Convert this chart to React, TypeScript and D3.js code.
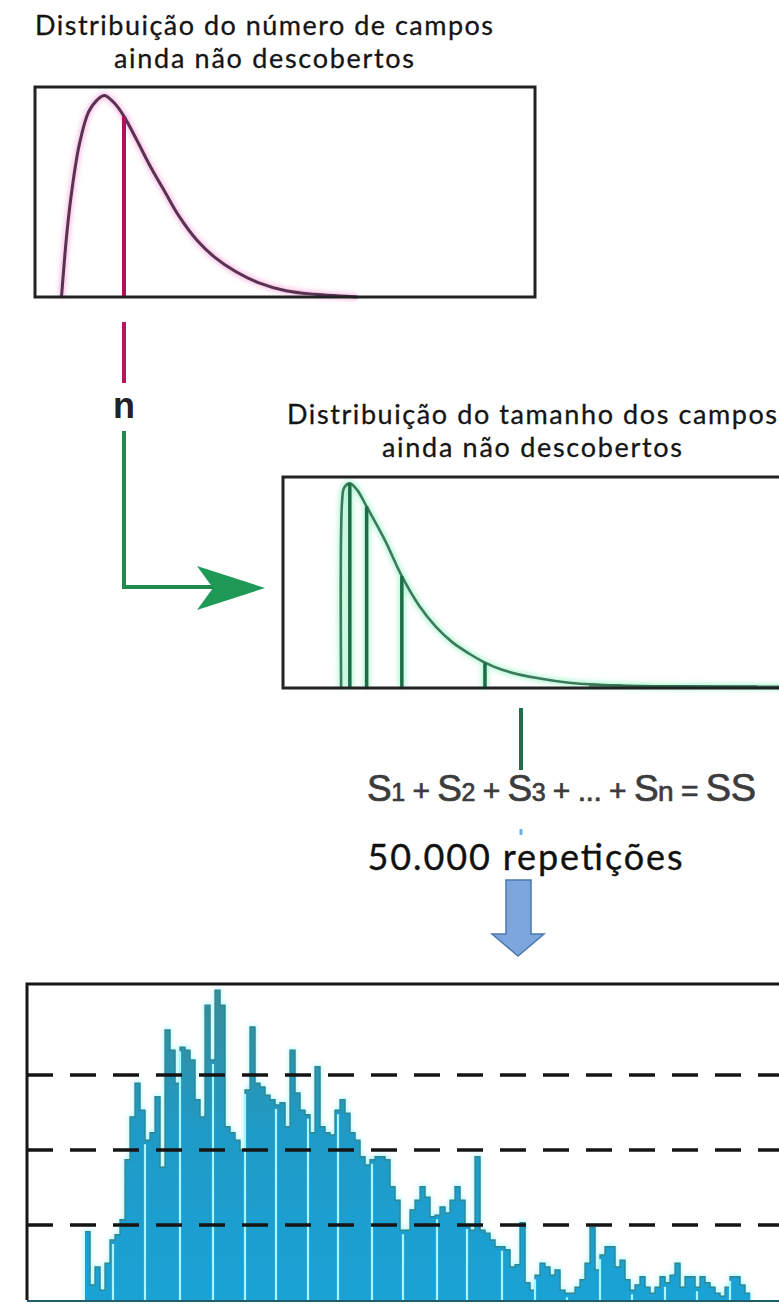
import * as d3 from "d3";
import { useEffect, useRef } from "react";

const W = 779;
const H = 1304;

// Top panel: distribution of the number of undiscovered fields
const countX = [5.3, 6.4, 7.5, 8.9, 10.7, 12.5, 13.9, 16.0, 17.8, 20.3, 23.1, 26.0, 28.8, 32.4, 35.9, 40.2, 44.5, 50.2, 55.9, 60.9, 64.4];
const countDensity = [0, 0.31, 0.53, 0.73, 0.88, 0.94, 0.96, 0.92, 0.86, 0.75, 0.62, 0.5, 0.385, 0.27, 0.19, 0.12, 0.07, 0.03, 0.013, 0.005, 0];
const countSampleX = 17.8;
const countSampleDensity = 0.86;

// Middle panel: distribution of the size of undiscovered fields
const sizeX = [11.4, 11.6, 12.0, 13.1, 14.5, 16.4, 20.0, 23.3, 26.7, 30.0, 33.3, 36.7, 39.6, 43.1, 49.8, 56.5, 66.5, 81.8, 99.4];
const sizeDensity = [0, 0.89, 0.95, 0.97, 0.94, 0.86, 0.7, 0.53, 0.39, 0.29, 0.215, 0.16, 0.12, 0.085, 0.047, 0.024, 0.012, 0.007, 0.005];
const sizeSamplesX = [13.1, 16.4, 23.3, 39.6];
const sizeSamplesDensity = [0.97, 0.86, 0.53, 0.12];

// Bottom panel: histogram of SS after 50.000 repetitions
const ssCounts = [
  910, 200, 440, 130, 490, 800, 870, 1070, 1870, 2440, 2890, 2530, 2130, 2230, 2710, 1770,
  3600, 3330, 2890, 3370, 3330, 3200, 2670, 2440, 3930, 3200, 4130, 3930, 2310, 2230, 2130, 2000,
  2800, 3640, 2890, 2840, 2730, 2670, 2600, 2630, 2310, 3330, 2760, 2530, 2470, 2230, 3110, 2310,
  2230, 2200, 2530, 2670, 2490, 2230, 2130, 1910, 1800, 1870, 1910, 1910, 1870, 1510, 1330, 930,
  930, 1200, 1330, 1510, 1370, 1110, 1130, 1240, 1160, 1330, 1510, 1330, 1000, 930, 1910, 930,
  890, 800, 710, 710, 670, 440, 470, 1030, 230, 130, 330, 490, 440, 330, 400, 130,
  90, 90, 170, 270, 490, 970, 400, 600, 710, 710, 440, 530, 270, 130, 200, 310,
  170, 90, 170, 310, 230, 330, 490, 170, 310, 310, 170, 310, 230, 170, 90, 50,
  170, 310, 310, 200, 90,
];
const ssGridlines = [1000, 2000, 3000];
const ssGapBins = [5.6, 12, 19, 25.6, 32, 38.2, 44.6, 50.6, 57.4, 63.6, 70.4, 76.4, 83.4, 90, 96.4, 103, 109.4, 116, 122.4, 129];

const topTitle = ["Distribuição do número de campos", "ainda não descobertos"];
const midTitle = ["Distribuição do tamanho dos campos", "ainda não descobertos"];
const repsLabel = "50.000 repetições";

export default function App() {
  const svgRef = useRef<SVGSVGElement>(null);

  useEffect(() => {
    if (!svgRef.current) return;
    const svg = d3.select(svgRef.current);
    svg.selectAll("*").remove();

    const defs = svg.append("defs");
    const blur = (id: string, sd: number) =>
      defs.append("filter").attr("id", id).attr("x", "-20%").attr("y", "-20%").attr("width", "140%").attr("height", "140%")
        .append("feGaussianBlur").attr("stdDeviation", sd);
    blur("glow", 2.5);
    blur("soft", 0.6);

    const grad = defs.append("linearGradient").attr("id", "barFill")
      .attr("gradientUnits", "userSpaceOnUse").attr("x1", 0).attr("x2", 0).attr("y1", 985).attr("y2", 1300);
    grad.append("stop").attr("offset", "0%").attr("stop-color", "#3a8c96");
    grad.append("stop").attr("offset", "45%").attr("stop-color", "#1f9ac6");
    grad.append("stop").attr("offset", "100%").attr("stop-color", "#1aa2d6");

    const titleFont = "Lato, 'Open Sans', sans-serif";

    const drawTitle = (lines: string[], cx: number, y0: number, widths: number[]) => {
      lines.forEach((t, i) => {
        svg.append("text")
          .attr("x", cx)
          .attr("y", y0 + i * 33)
          .attr("text-anchor", "middle")
          .attr("font-family", titleFont)
          .attr("font-size", 27)
          .attr("fill", "#151515")
          .attr("stroke", "#151515")
          .attr("stroke-width", 0.3)
          .attr("textLength", widths[i])
          .attr("lengthAdjust", "spacing")
          .text(t);
      });
    };

    // ---------- top panel ----------
    const xTop = d3.scaleLinear().domain([0, 100]).range([35, 535]);
    const yTop = d3.scaleLinear().domain([0, 1]).range([297, 87]);
    drawTitle(topTitle, 264, 35, [458, 300]);

    const topLine = d3.line<number>()
      .x((_, i) => xTop(countX[i]))
      .y((d) => yTop(d))
      .curve(d3.curveCatmullRom);

    svg.append("path").attr("d", topLine(countDensity)!).attr("fill", "none")
      .attr("stroke", "#f07ac4").attr("stroke-width", 6).attr("opacity", 0.5).attr("filter", "url(#glow)");
    svg.append("path").attr("d", topLine(countDensity)!).attr("fill", "none")
      .attr("stroke", "#5a3052").attr("stroke-width", 3).attr("filter", "url(#soft)");
    svg.append("line")
      .attr("x1", xTop(countSampleX)).attr("x2", xTop(countSampleX))
      .attr("y1", yTop(0)).attr("y2", yTop(countSampleDensity))
      .attr("stroke", "#b0105c").attr("stroke-width", 4);
    svg.append("rect").attr("x", 35).attr("y", 87).attr("width", 500).attr("height", 210)
      .attr("fill", "none").attr("stroke", "#222").attr("stroke-width", 3);

    // connector: n -> size distribution
    const nx = xTop(countSampleX);
    svg.append("line").attr("x1", nx).attr("x2", nx).attr("y1", 322).attr("y2", 383)
      .attr("stroke", "#b3175f").attr("stroke-width", 4);
    svg.append("text").attr("x", nx).attr("y", 418).attr("text-anchor", "middle")
      .attr("font-family", "'Liberation Sans', Arial, sans-serif").attr("font-weight", "bold")
      .attr("font-size", 36).attr("fill", "#222").text("n");
    svg.append("path")
      .attr("d", `M${nx},431 V587 H214`)
      .attr("fill", "none").attr("stroke", "#1f8a4c").attr("stroke-width", 4);
    svg.append("path")
      .attr("d", "M265,588 L197,566 L213,588 L197,610 Z")
      .attr("fill", "#1f9a56");

    // ---------- middle panel ----------
    const xMid = d3.scaleLinear().domain([0, 100]).range([283, 793]);
    const yMid = d3.scaleLinear().domain([0, 1]).range([688, 477]);
    drawTitle(midTitle, 532, 424, [490, 300]);

    const midLine = d3.line<number>()
      .x((_, i) => xMid(sizeX[i]))
      .y((d) => yMid(d))
      .curve(d3.curveCatmullRom);

    const glowG = svg.append("g").attr("filter", "url(#glow)").attr("opacity", 0.6);
    glowG.append("path").attr("d", midLine(sizeDensity)!).attr("fill", "none")
      .attr("stroke", "#7ff0b8").attr("stroke-width", 6);
    sizeSamplesX.forEach((sx, i) => {
      glowG.append("line").attr("x1", xMid(sx)).attr("x2", xMid(sx))
        .attr("y1", yMid(0)).attr("y2", yMid(sizeSamplesDensity[i]))
        .attr("stroke", "#7ff0b8").attr("stroke-width", 7);
    });
    svg.append("path").attr("d", midLine(sizeDensity)!).attr("fill", "none")
      .attr("stroke", "#3d7a5c").attr("stroke-width", 2.6).attr("filter", "url(#soft)");
    sizeSamplesX.forEach((sx, i) => {
      svg.append("line").attr("x1", xMid(sx)).attr("x2", xMid(sx))
        .attr("y1", yMid(0)).attr("y2", yMid(sizeSamplesDensity[i]))
        .attr("stroke", "#1e6b48").attr("stroke-width", 3.5);
    });
    svg.append("line").attr("x1", xMid(60)).attr("x2", xMid(93)).attr("y1", 686).attr("y2", 686)
      .attr("stroke", "#1e6b48").attr("stroke-width", 2).attr("opacity", 0.6);
    svg.append("rect").attr("x", 283).attr("y", 477).attr("width", 510).attr("height", 211)
      .attr("fill", "none").attr("stroke", "#222").attr("stroke-width", 3);

    // sum + repetitions
    svg.append("line").attr("x1", 521).attr("x2", 521).attr("y1", 708).attr("y2", 770)
      .attr("stroke", "#1f6e4a").attr("stroke-width", 4);

    const f = svg.append("text").attr("x", 367).attr("y", 801)
      .attr("font-family", "'Liberation Sans', Arial, sans-serif").attr("fill", "#3c3c3c")
      .attr("stroke", "#3c3c3c").attr("stroke-width", 0.7)
      .attr("textLength", 389).attr("lengthAdjust", "spacing");
    const parts: [string, number][] = [
      ["S", 37], ["1", 25], [" + ", 30], ["S", 37], ["2", 25], [" + ", 30], ["S", 37], ["3", 25],
      [" + ... + ", 30], ["S", 37], ["n", 28], [" = ", 30], ["SS", 38],
    ];
    parts.forEach(([t, s]) => f.append("tspan").attr("font-size", s).text(t));

    svg.append("line").attr("x1", 521).attr("x2", 521).attr("y1", 829).attr("y2", 835)
      .attr("stroke", "#6fb0d8").attr("stroke-width", 3);

    svg.append("text").attr("x", 525).attr("y", 870).attr("text-anchor", "middle")
      .attr("font-family", titleFont).attr("font-size", 36).attr("fill", "#111")
      .attr("stroke", "#111").attr("stroke-width", 0.35)
      .attr("textLength", 315).attr("lengthAdjust", "spacing").text(repsLabel);

    svg.append("path")
      .attr("d", "M506,880 H531 V934 H544 L518,956 L492,934 H506 Z")
      .attr("fill", "#7ca6dc").attr("stroke", "#4a78b0").attr("stroke-width", 1.5);

    // ---------- histogram ----------
    const xHist = d3.scaleLinear().domain([0, ssCounts.length]).range([85, 750]);
    const yHist = d3.scaleLinear().domain([0, 4200]).range([1300, 985]);

    const barsGlow = svg.append("g").attr("filter", "url(#glow)").attr("opacity", 0.7);
    barsGlow.selectAll("rect").data(ssCounts).enter().append("rect")
      .attr("x", (_, i) => xHist(i) - 1)
      .attr("y", (d) => yHist(d) - 2)
      .attr("width", xHist(1) - xHist(0) + 2)
      .attr("height", (d) => yHist(0) - yHist(d) + 2)
      .attr("fill", "#8cf2ff");

    svg.append("g").selectAll("rect").data(ssCounts).enter().append("rect")
      .attr("x", (_, i) => xHist(i))
      .attr("y", (d) => yHist(d))
      .attr("width", xHist(1) - xHist(0) + 0.3)
      .attr("height", (d) => yHist(0) - yHist(d))
      .attr("fill", "url(#barFill)");

    const stepPts: [number, number][] = ssCounts.map((v, i) => [i, v]);
    stepPts.push([ssCounts.length, ssCounts[ssCounts.length - 1]]);
    svg.append("path")
      .attr("d", d3.line<[number, number]>().x((d) => xHist(d[0])).y((d) => yHist(d[1])).curve(d3.curveStepAfter)(stepPts)!)
      .attr("fill", "none").attr("stroke", "#2f8790").attr("stroke-width", 1.3);

    ssGapBins.forEach((g) => {
      const v = ssCounts[Math.floor(g)];
      svg.append("line").attr("x1", xHist(g)).attr("x2", xHist(g))
        .attr("y1", yHist(0)).attr("y2", yHist(v) + 4)
        .attr("stroke", "#a6f6ff").attr("stroke-width", 2.2);
    });

    ssGridlines.forEach((g) => {
      svg.append("line").attr("x1", 27).attr("x2", W).attr("y1", yHist(g)).attr("y2", yHist(g))
        .attr("stroke", "#151515").attr("stroke-width", 3.5).attr("stroke-dasharray", "26 17");
    });

    svg.append("path").attr("d", `M27,1300 V984 H${W}`)
      .attr("fill", "none").attr("stroke", "#161616").attr("stroke-width", 3);
    svg.append("line").attr("x1", 27).attr("x2", W).attr("y1", 1301).attr("y2", 1301)
      .attr("stroke", "#1f5f6a").attr("stroke-width", 2);
  }, []);

  return (
    <svg
      ref={svgRef}
      width={W}
      height={H}
      style={{ position: "absolute", left: 0, top: 0, background: "#fff" }}
    />
  );
}
